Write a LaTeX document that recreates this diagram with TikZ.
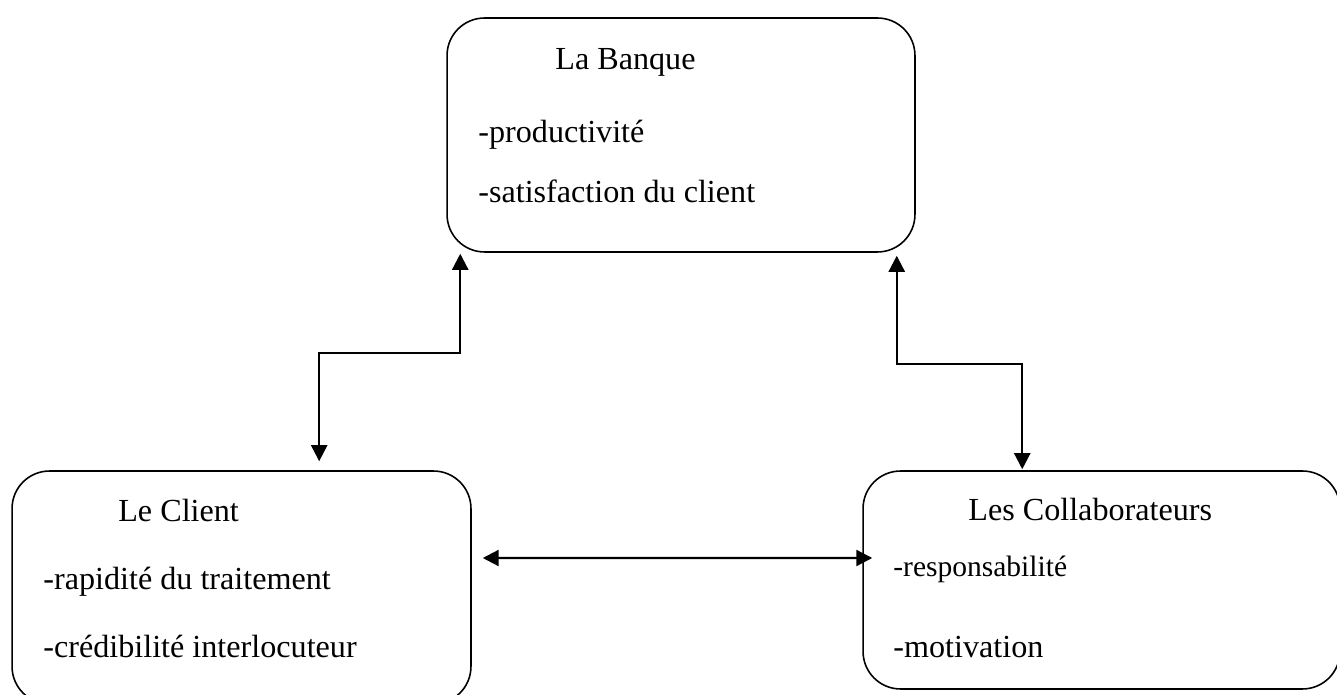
\documentclass[tikz,border=0pt]{standalone}
\usepackage{fontspec}
\setmainfont{Liberation Serif}
\usepackage{tikz}
\usetikzlibrary{arrows.meta}

\tikzset{
  boite/.style={draw, line width=.9pt, rounded corners=.75cm, inner sep=0pt},
  texte/.style={anchor=base west, inner sep=0pt, font=\fontsize{18.3pt}{22pt}\selectfont},
  lien/.style={{Triangle[length=.32cm,width=.32cm]}-{Triangle[length=.32cm,width=.32cm]}, line width=1.3pt}
}

\begin{document}
\begin{tikzpicture}[x=.02cm, y=.02cm, line join=miter]
\useasboundingbox (0,0) rectangle (1337,695);

% Boites
\node[boite, minimum width=9.36cm, minimum height=4.68cm] (banque) at (681,560) {};
\node[boite, minimum width=9.18cm, minimum height=4.66cm] (client) at (241.5,107.5) {};
\node[boite, minimum width=9.54cm, minimum height=4.36cm] (collab) at (1101.5,115) {};

% Textes
\node[texte] (banque-t) at (555,625) {La Banque};
\node[texte] (banque-1) at (478,552) {-productivité};
\node[texte] (banque-2) at (478,492) {-satisfaction du client};

\node[texte] (client-t) at (118,173) {Le Client};
\node[texte] (client-1) at (43,105) {-rapidité du traitement};
\node[texte] (client-2) at (43,37) {-crédibilité interlocuteur};

\node[texte] (collab-t) at (968,174) {Les Collaborateurs};
\node[texte, font=\fontsize{16.8pt}{20pt}\selectfont] (collab-1) at (893,118) {-responsabilité};
\node[texte] (collab-2) at (893,37) {-motivation};

% Liens
\draw[lien] ([xshift=.28cm,yshift=-.02cm]banque.south west) -- ++(0,-99)
  -| ([xshift=6.16cm,yshift=.18cm]client.north west);
\draw[lien] ([xshift=-.38cm,yshift=-.06cm]banque.south east) -- ++(0,-108)
  -| ([xshift=3.2cm,yshift=.02cm]collab.north west);
\draw[lien] ([xshift=.22cm,yshift=.59cm]client.east) -- ([xshift=.2cm,yshift=.44cm]collab.west);

\end{tikzpicture}
\end{document}
